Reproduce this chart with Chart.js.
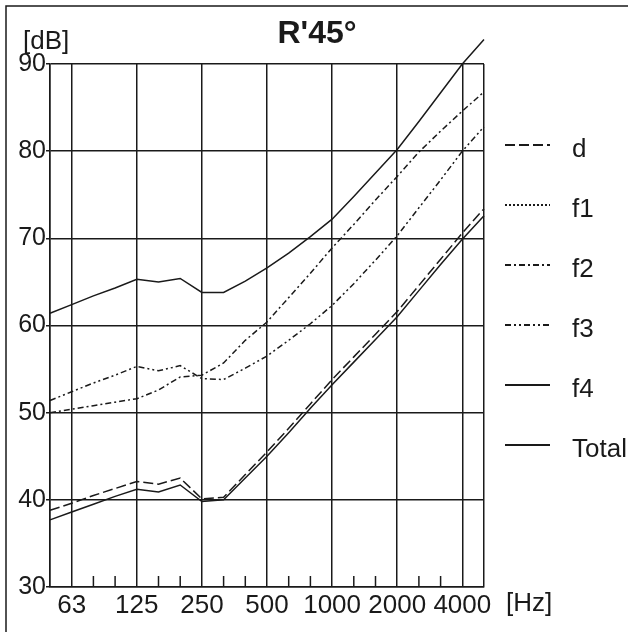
<!DOCTYPE html>
<html>
<head>
<meta charset="utf-8">
<script src="https://cdn.jsdelivr.net/npm/chart.js@4"></script>
<style>
  html, body { margin: 0; padding: 0; background: #fff; }
  #wrap { width: 628px; height: 632px; }
</style>
</head>
<body>
<div id="wrap"><canvas id="chart"></canvas></div>
<script>
// third-octave bands, 50 Hz .. 5000 Hz
const bands = ['50', '63', '80', '100', '125', '160', '200', '250', '315', '400', '500',
  '630', '800', '1000', '1250', '1600', '2000', '2500', '3150', '4000', '5000'];
const shownBands = ['63', '125', '250', '500', '1000', '2000', '4000'];

// values, dB
const dValues = [38.8, 39.6, 40.5, 41.3, 42.1, 41.8, 42.5, 40.1, 40.3, 42.9, 45.5,
  48.2, 51.0, 53.8, 56.4, 59.0, 61.6, 64.6, 67.6, 70.6, 73.4];
const f1Values = bands.map(() => null); // not visible in the plot
const f2Values = [50.0, 50.4, 50.8, 51.2, 51.6, 52.6, 54.1, 54.3, 55.7, 58.3, 60.4,
  63.2, 66.0, 68.9, 71.6, 74.4, 77.1, 79.9, 82.3, 84.6, 86.8];
const f3Values = [51.4, 52.4, 53.4, 54.3, 55.3, 54.8, 55.4, 53.9, 53.8, 55.1, 56.5,
  58.3, 60.2, 62.3, 64.8, 67.5, 70.3, 73.5, 76.7, 80.0, 82.8];
const f4Values = [61.4, 62.4, 63.4, 64.3, 65.3, 65.0, 65.4, 63.8, 63.8, 65.1, 66.6,
  68.3, 70.2, 72.2, 74.8, 77.5, 80.2, 83.4, 86.7, 90.0, 92.8];
const totalValues = [37.7, 38.6, 39.5, 40.4, 41.2, 40.9, 41.7, 39.8, 40.0, 42.5, 45.0,
  47.7, 50.5, 53.2, 55.8, 58.4, 61.0, 64.0, 67.0, 69.9, 72.6];

const yTicks = [30, 40, 50, 60, 70, 80, 90];

const ink = '#1a1a1a';
const textFont = '"Liberation Sans", Arial, sans-serif';

function series(label, data, dash) {
  return {
    label: label,
    data: data,
    borderColor: ink,
    borderWidth: 1.5,
    borderDash: dash,
    pointRadius: 0,
    tension: 0,
    fill: false,
    clip: false
  };
}

// frame, title, axis units, inner minor ticks and the legend on the right
const extras = {
  id: 'extras',
  afterDraw(chart) {
    const ctx = chart.ctx;
    const x = chart.scales.x;
    const area = chart.chartArea;
    ctx.save();
    ctx.strokeStyle = ink;
    ctx.lineWidth = 1.5;
    ctx.setLineDash([]);
    ctx.strokeRect(6, 6, 700, 700);

    bands.forEach((b, i) => {
      if (i === 0 || i === bands.length - 1 || shownBands.includes(b)) return;
      const px = x.getPixelForValue(i);
      ctx.beginPath();
      ctx.moveTo(px, area.bottom);
      ctx.lineTo(px, area.bottom - 11);
      ctx.stroke();
    });

    ctx.fillStyle = ink;
    ctx.textBaseline = 'middle';
    ctx.textAlign = 'center';
    ctx.font = 'bold 32px ' + textFont;
    ctx.fillText("R'45°", 317, 34);

    ctx.textAlign = 'left';
    ctx.font = '26px ' + textFont;
    ctx.fillText('[dB]', 23, 42);
    ctx.fillText('[Hz]', 506, 604);

    chart.data.datasets.forEach((ds, i) => {
      const ly = 145 + i * 60;
      ctx.setLineDash(ds.borderDash || []);
      ctx.lineWidth = 2;
      ctx.beginPath();
      ctx.moveTo(505, ly);
      ctx.lineTo(550, ly);
      ctx.stroke();
      ctx.setLineDash([]);
      ctx.textBaseline = 'alphabetic';
      ctx.fillText(ds.label, 572, ly + 12);
    });
    ctx.restore();
  }
};

new Chart(document.getElementById('chart'), {
  type: 'line',
  data: {
    labels: bands,
    datasets: [
      series('d', dValues, [10, 4]),
      series('f1', f1Values, [2, 2]),
      series('f2', f2Values, [6, 3, 2, 3]),
      series('f3', f3Values, [6, 3, 2, 3, 2, 3]),
      series('f4', f4Values, []),
      series('Total', totalValues, [])
    ]
  },
  options: {
    responsive: true,
    maintainAspectRatio: false,
    animation: false,
    layout: { padding: { left: 0, right: 144, top: 64, bottom: 0 } },
    plugins: {
      legend: { display: false },
      tooltip: { enabled: false },
      title: { display: false }
    },
    scales: {
      x: {
        type: 'category',
        offset: false,
        afterFit(scale) { scale.height = 45; },
        grid: {
          offset: false,
          drawTicks: false,
          lineWidth: 1.5,
          color(c) {
            const b = bands[c.index];
            const edge = c.index === 0 || c.index === bands.length - 1;
            return edge || shownBands.includes(b) ? ink : 'rgba(0,0,0,0)';
          }
        },
        border: { display: true, color: ink, width: 1.5 },
        ticks: {
          autoSkip: false,
          maxRotation: 0,
          padding: 3,
          color: ink,
          font: { family: textFont, size: 26 },
          callback(value) {
            const b = bands[value];
            return shownBands.includes(b) ? b : '';
          }
        }
      },
      y: {
        min: 30,
        max: 90,
        afterFit(scale) { scale.width = 50; },
        afterBuildTicks(scale) { scale.ticks = yTicks.map(v => ({ value: v })); },
        grid: { color: ink, lineWidth: 1.5, drawTicks: true, tickLength: 4 },
        border: { display: true, color: ink, width: 1.5 },
        ticks: {
          padding: 0,
          color: ink,
          font: { family: textFont, size: 25 }
        }
      }
    }
  },
  plugins: [extras]
});
</script>
</body>
</html>
